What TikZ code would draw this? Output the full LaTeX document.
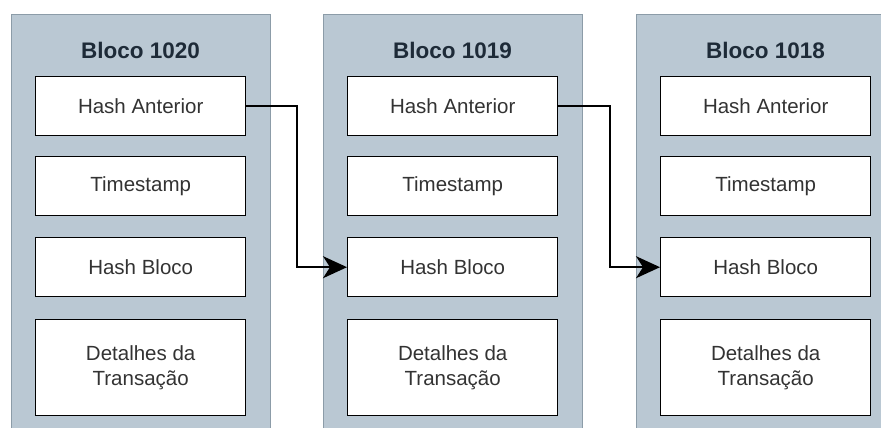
\documentclass[tikz,border=0pt]{standalone}
\usepackage{fontspec}
\setmainfont{Liberation Sans}
\usetikzlibrary{arrows.meta,positioning}

\definecolor{blockfill}{HTML}{BAC8D3}
\definecolor{blockline}{HTML}{8C9CA8}
\definecolor{titletext}{HTML}{1E2B38}
\definecolor{fieldtext}{HTML}{333333}

\tikzset{
  blockbox/.style={draw=blockline, line width=1.2pt, fill=blockfill,
    minimum width=259pt, minimum height=430pt, anchor=north west, inner sep=0pt},
  blocktitle/.style={font=\fontsize{22.5}{26}\selectfont\bfseries, text=titletext},
  fieldbox/.style={draw=black, line width=1.4pt, fill=white, minimum width=210pt,
    anchor=north west, inner sep=0pt, align=center, text=fieldtext,
    font=\fontsize{20.5}{25}\selectfont},
  link/.style={draw=black, line width=2pt,
    -{Stealth[length=24pt,width=22pt,inset=7pt]}},
}

\begin{document}
\begin{tikzpicture}[x=1pt,y=-1pt]
  \useasboundingbox (0,0) rectangle (881,428);
  \clip (0,0) rectangle (881,428);
  \fill[white] (0,0) rectangle (881,428);

  % the three chained blocks: name/left edge/label
  \foreach \b/\x/\lbl in {a/11/1020, b/323/1019, c/636/1018} {
    \node[blockbox] (blk\b) at (\x,14) {};
    \node[blocktitle] (title\b) at (\x+129.5,50) {Bloco \lbl};
    \node[fieldbox, minimum height=59pt] (prev\b) at (\x+24,76) {Hash Anterior};
    \node[fieldbox, minimum height=59pt] (time\b) at (\x+24,156) {Timestamp};
    \node[fieldbox, minimum height=59pt] (hash\b) at (\x+24,237) {Hash Bloco};
    \node[fieldbox, minimum height=96pt] (data\b) at (\x+24,319) {Detalhes da\\Transação};
  }

  % each block points back to the hash of the previous one
  \draw[link] (preva.east) -- ++(51,0) |- (hashb.west);
  \draw[link] (prevb.east) -- ++(52,0) |- (hashc.west);
\end{tikzpicture}
\end{document}
